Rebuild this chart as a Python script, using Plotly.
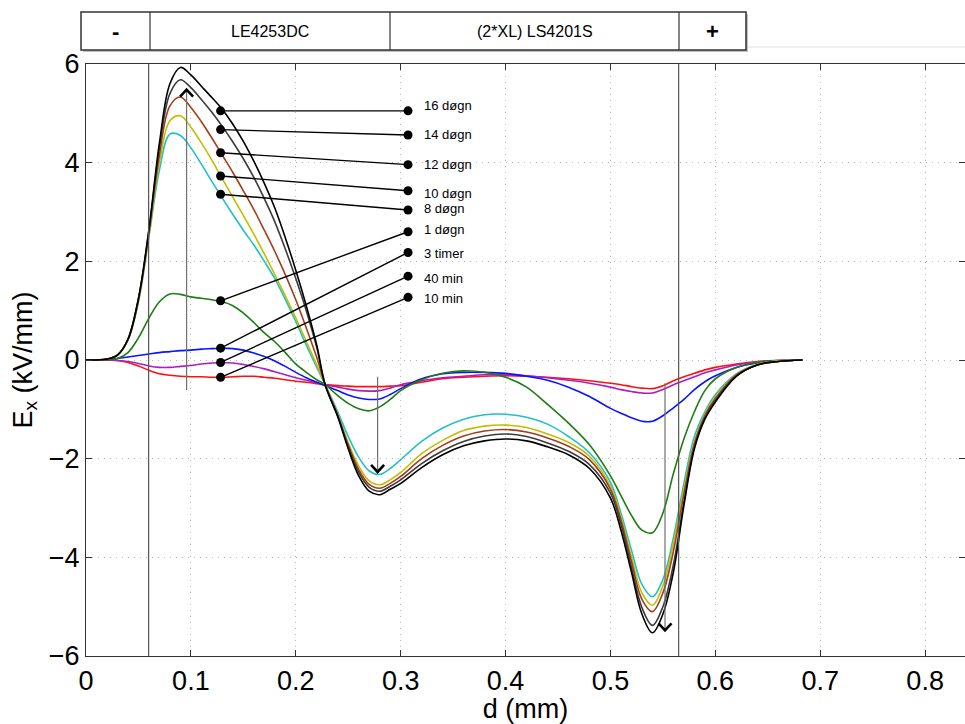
import plotly.graph_objects as go

# ---------------- data ----------------
d = [0, 0.02, 0.03, 0.04, 0.05, 0.06, 0.07, 0.08, 0.09, 0.10, 0.11, 0.12, 0.13, 0.14, 0.15,
     0.16, 0.17, 0.18, 0.19, 0.20, 0.21, 0.22, 0.228, 0.24, 0.25, 0.26, 0.27, 0.28, 0.29, 0.30,
     0.32, 0.34, 0.36, 0.38, 0.40, 0.42, 0.44, 0.46, 0.48, 0.50, 0.51, 0.52, 0.53, 0.54, 0.55,
     0.56, 0.57, 0.58, 0.59, 0.60, 0.62, 0.64, 0.66, 0.683]

E_16d = [0, 0.02, 0.1, 0.42, 1.25, 2.65, 4.4, 5.6, 5.93, 5.78, 5.55, 5.32, 5.08, 4.78, 4.43,
         4.03, 3.58, 3.08, 2.48, 1.82, 1.1, 0.3, -0.5, -1.15, -1.8, -2.35, -2.66, -2.73, -2.62, -2.5,
         -2.18, -1.92, -1.74, -1.64, -1.6, -1.64, -1.76, -1.92, -2.2, -2.8, -3.45, -4.3, -5.15, -5.53, -5.15,
         -4.3, -2.95, -1.8, -1.2, -0.85, -0.33, -0.1, -0.03, 0]
E_14d = [0, 0.02, 0.1, 0.42, 1.24, 2.63, 4.3, 5.4, 5.68, 5.52, 5.28, 5.02, 4.73, 4.42, 4.08,
         3.7, 3.27, 2.8, 2.25, 1.65, 1.0, 0.25, -0.5, -1.13, -1.76, -2.28, -2.58, -2.66, -2.56, -2.43,
         -2.1, -1.84, -1.65, -1.54, -1.5, -1.55, -1.68, -1.85, -2.12, -2.7, -3.33, -4.2, -5.02, -5.38, -5.0,
         -4.15, -2.88, -1.77, -1.18, -0.82, -0.32, -0.1, -0.03, 0]
E_12d = [0, 0.02, 0.1, 0.41, 1.22, 2.58, 4.15, 5.15, 5.33, 5.12, 4.83, 4.5, 4.15, 3.8, 3.43,
         3.05, 2.63, 2.2, 1.73, 1.22, 0.65, 0.05, -0.5, -1.12, -1.72, -2.22, -2.52, -2.6, -2.5, -2.36,
         -2.0, -1.73, -1.54, -1.44, -1.41, -1.46, -1.58, -1.75, -2.02, -2.62, -3.25, -4.08, -4.85, -5.1, -4.72,
         -3.88, -2.72, -1.7, -1.13, -0.78, -0.3, -0.1, -0.03, 0]
E_10d = [0, 0.02, 0.1, 0.41, 1.2, 2.53, 4.0, 4.85, 4.95, 4.72, 4.4, 4.05, 3.67, 3.3, 2.93,
         2.55, 2.15, 1.73, 1.3, 0.85, 0.38, -0.1, -0.5, -1.1, -1.68, -2.15, -2.45, -2.53, -2.43, -2.28,
         -1.9, -1.63, -1.43, -1.34, -1.32, -1.37, -1.5, -1.67, -1.95, -2.56, -3.18, -3.98, -4.72, -4.97, -4.58,
         -3.72, -2.62, -1.65, -1.1, -0.75, -0.29, -0.09, -0.02, 0]
E_8d = [0, 0.02, 0.1, 0.4, 1.18, 2.5, 3.85, 4.58, 4.55, 4.3, 3.97, 3.62, 3.28, 2.95, 2.63,
        2.33, 2.0, 1.65, 1.23, 0.78, 0.3, -0.15, -0.5, -1.05, -1.55, -1.97, -2.25, -2.32, -2.2, -2.02,
        -1.65, -1.38, -1.2, -1.11, -1.1, -1.16, -1.3, -1.55, -1.88, -2.48, -3.1, -3.85, -4.55, -4.8, -4.45,
        -3.6, -2.5, -1.55, -1.05, -0.7, -0.28, -0.09, -0.02, 0]
E_1d = [0, 0.01, 0.03, 0.15, 0.45, 0.85, 1.18, 1.34, 1.33, 1.28, 1.25, 1.22, 1.18, 1.1, 0.95,
        0.76, 0.55, 0.37, 0.15, -0.08, -0.25, -0.4, -0.5, -0.72, -0.88, -0.99, -1.03, -0.95, -0.8, -0.62,
        -0.4, -0.27, -0.22, -0.25, -0.35, -0.55, -0.9, -1.28, -1.72, -2.35, -2.75, -3.15, -3.45, -3.5, -3.1,
        -2.3, -1.6, -1.05, -0.62, -0.38, -0.15, -0.05, -0.01, 0]
E_3t = [0, 0.01, 0.03, 0.06, 0.09, 0.12, 0.15, 0.17, 0.19, 0.2, 0.22, 0.23, 0.24, 0.23, 0.2,
        0.14, 0.07, -0.02, -0.13, -0.25, -0.36, -0.45, -0.52, -0.62, -0.71, -0.77, -0.8, -0.79, -0.7, -0.58,
        -0.38, -0.28, -0.25, -0.25, -0.27, -0.33, -0.41, -0.55, -0.74, -0.98, -1.08, -1.17, -1.24, -1.24, -1.13,
        -0.97, -0.8, -0.6, -0.44, -0.32, -0.15, -0.06, -0.02, 0]
E_40m = [0, 0, -0.01, -0.03, -0.07, -0.12, -0.15, -0.15, -0.13, -0.11, -0.08, -0.06, -0.05, -0.06, -0.09,
         -0.13, -0.18, -0.24, -0.3, -0.36, -0.41, -0.46, -0.5, -0.55, -0.59, -0.62, -0.63, -0.62, -0.57, -0.5,
         -0.42, -0.36, -0.33, -0.3, -0.3, -0.32, -0.36, -0.41, -0.47, -0.55, -0.6, -0.64, -0.67, -0.67, -0.6,
         -0.5, -0.42, -0.34, -0.26, -0.2, -0.1, -0.04, -0.01, 0]
E_10m = [0, 0, -0.01, -0.05, -0.12, -0.21, -0.28, -0.31, -0.33, -0.34, -0.34, -0.35, -0.35, -0.34, -0.33,
         -0.33, -0.35, -0.37, -0.4, -0.43, -0.45, -0.48, -0.5, -0.52, -0.53, -0.54, -0.54, -0.54, -0.53, -0.52,
         -0.45, -0.38, -0.35, -0.33, -0.32, -0.33, -0.35, -0.38, -0.42, -0.47, -0.5, -0.54, -0.57, -0.58, -0.52,
         -0.42, -0.34, -0.27, -0.2, -0.15, -0.08, -0.03, -0.01, 0]

labels = ["16 døgn", "14 døgn", "12 døgn", "10 døgn", "8 døgn", "1 døgn", "3 timer", "40 min", "10 min"]
series = [E_16d, E_14d, E_12d, E_10d, E_8d, E_1d, E_3t, E_40m, E_10m]
colors = ["#000000", "#3c3c3c", "#a33d1c", "#c4bc00", "#22c0c4", "#1d7d12", "#0a14ff", "#b01cc0", "#ff1010"]

# label leader lines
lead_x0 = 0.1283
lead_x1 = 0.307
lead_y0 = [5.05, 4.67, 4.20, 3.73, 3.36, 1.20, 0.24, -0.05, -0.35]
lead_y1 = [5.05, 4.56, 3.96, 3.43, 3.04, 2.60, 2.18, 1.70, 1.27]
text_x = 0.320
text_y = [5.15, 4.58, 3.96, 3.38, 3.07, 2.64, 2.16, 1.66, 1.25]

# trend arrows (x, start, tip)
arrows = [(0.0959, -0.61, 5.48), (0.278, -0.34, -2.27), (0.552, -0.47, -5.48)]

# interface lines
interfaces = [0.0597, 0.565]

# header boxes
header_texts = ["-", "LE4253DC", "(2*XL) LS4201S", "+"]

# ---------------- figure ----------------
W, H = 965, 724
L, R, T, B = 86, 0, 64, 68
XMAX = 0.838
pw, ph = W - L - R, H - T - B
px_per_x = pw / XMAX
px_per_y = ph / 12.0

def paper_x(px):
    return (px - L) / pw

def paper_y(py):
    return (H - B - py) / ph

fig = go.Figure()

order = [8, 7, 6, 5, 4, 3, 2, 1, 0]
for i in order:
    fig.add_trace(go.Scatter(x=d, y=series[i], mode="lines",
                             line=dict(color=colors[i], width=1.6, shape="spline", smoothing=1.0),
                             hoverinfo="skip", showlegend=False))

# arrows
for ax, y0, y1 in arrows:
    fig.add_trace(go.Scatter(x=[ax, ax], y=[y0, y1], mode="lines",
                             line=dict(color="#707070", width=1.2), showlegend=False, hoverinfo="skip"))
    sgn = 1 if y1 > y0 else -1
    dx = 6.5 / px_per_x
    dy = 7.0 / px_per_y * sgn
    fig.add_trace(go.Scatter(x=[ax - dx, ax, ax + dx], y=[y1 - dy, y1, y1 - dy], mode="lines",
                             line=dict(color="#000000", width=2.6), showlegend=False, hoverinfo="skip"))

# leader lines with dots
for j in range(len(labels)):
    fig.add_trace(go.Scatter(x=[lead_x0, lead_x1], y=[lead_y0[j], lead_y1[j]], mode="lines+markers",
                             line=dict(color="#000000", width=1.4),
                             marker=dict(color="#000000", size=9),
                             showlegend=False, hoverinfo="skip"))
    fig.add_annotation(x=text_x, y=text_y[j], xref="x", yref="y", text=labels[j], showarrow=False,
                       xanchor="left", yanchor="middle",
                       font=dict(family="Liberation Sans, Arial, sans-serif", size=13, color="#000"))

shapes = []
for xv in interfaces:
    shapes.append(dict(type="line", xref="x", yref="paper", x0=xv, x1=xv, y0=0, y1=1,
                       line=dict(color="#555555", width=1.2)))

# header table
hx = [81, 150, 390, 679, 746]
hy0, hy1 = 12, 50
shapes.append(dict(type="rect", xref="paper", yref="paper",
                   x0=paper_x(hx[0] + 2), x1=paper_x(hx[-1] + 2), y0=paper_y(hy1 + 2), y1=paper_y(hy0 + 2),
                   line=dict(width=0), fillcolor="rgba(0,0,0,0.25)", layer="below"))
shapes.append(dict(type="rect", xref="paper", yref="paper",
                   x0=paper_x(hx[0]), x1=paper_x(hx[-1]), y0=paper_y(hy1), y1=paper_y(hy0),
                   line=dict(color="#333333", width=1.5), fillcolor="white"))
for xv in hx[1:-1]:
    shapes.append(dict(type="line", xref="paper", yref="paper",
                       x0=paper_x(xv), x1=paper_x(xv), y0=paper_y(hy1), y1=paper_y(hy0),
                       line=dict(color="#333333", width=1.2)))
shapes.append(dict(type="line", xref="paper", yref="paper",
                   x0=paper_x(748), x1=paper_x(965), y0=paper_y(47), y1=paper_y(47),
                   line=dict(color="#e4e4e4", width=1)))
for k, t in enumerate(header_texts):
    bold = t in ("-", "+")
    fig.add_annotation(xref="paper", yref="paper", x=paper_x((hx[k] + hx[k + 1]) / 2),
                       y=paper_y((hy0 + hy1) / 2),
                       text=("<b>%s</b>" % t) if bold else t, showarrow=False,
                       xanchor="center", yanchor="middle",
                       font=dict(family="Liberation Sans, Arial, sans-serif",
                                 size=22 if bold else 16, color="#000"))

fig.update_layout(
    width=W, height=H, margin=dict(l=L, r=R, t=T, b=B, pad=0),
    plot_bgcolor="white", paper_bgcolor="white",
    shapes=shapes,
    font=dict(family="Liberation Sans, Arial, sans-serif", color="#000"),
)
axis_common = dict(showline=True, linecolor="#333333", linewidth=1.2, mirror="ticks",
                   ticks="inside", ticklen=6, tickcolor="#333333",
                   showgrid=True, gridcolor="#b8b8b8", griddash="1px,5px", gridwidth=1,
                   zeroline=False)
fig.update_xaxes(range=[0, XMAX], tickvals=[0, 0.1, 0.2, 0.3, 0.4, 0.5, 0.6, 0.7, 0.8],
                 ticktext=["0", "0.1", "0.2", "0.3", "0.4", "0.5", "0.6", "0.7", "0.8"],
                 tickfont=dict(size=27), title=dict(text="d (mm)", font=dict(size=27), standoff=2),
                 **axis_common)
fig.update_yaxes(range=[-6, 6], tickvals=[-6, -4, -2, 0, 2, 4, 6],
                 tickfont=dict(size=27),
                 title=dict(text="E<sub>x</sub> (kV/mm)", font=dict(size=27), standoff=8),
                 **axis_common)

fig.write_html("out.html")
